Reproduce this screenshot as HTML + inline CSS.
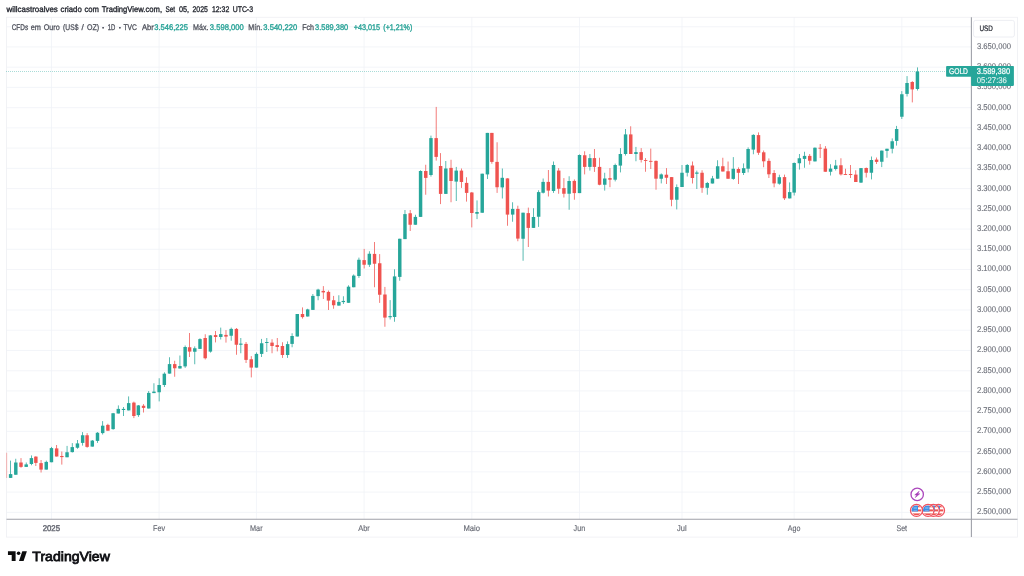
<!DOCTYPE html>
<html lang="pt"><head><meta charset="utf-8"><title>CFDs em Ouro (US$ / OZ) - TradingView</title>
<style>html,body{margin:0;padding:0;background:#fff;overflow:hidden}svg{display:block}text{font-family:"Liberation Sans", sans-serif;text-rendering:geometricPrecision;stroke-width:0.22px;paint-order:stroke fill}</style></head><body>
<svg width="1024" height="576" viewBox="0 0 1024 576">
<defs><filter id="soft" x="0" y="0" width="100%" height="100%" filterUnits="objectBoundingBox"><feGaussianBlur stdDeviation="0.35"/></filter></defs>
<g filter="url(#soft)">
<rect x="0" y="0" width="1024" height="576" fill="#ffffff"/>
<g stroke="#f0f2f7" stroke-width="0.8" fill="none"><line x1="6.50" x2="971.40" y1="26.71" y2="26.71"/><line x1="6.50" x2="971.40" y1="46.95" y2="46.95"/><line x1="6.50" x2="971.40" y1="67.18" y2="67.18"/><line x1="6.50" x2="971.40" y1="87.42" y2="87.42"/><line x1="6.50" x2="971.40" y1="107.65" y2="107.65"/><line x1="6.50" x2="971.40" y1="127.89" y2="127.89"/><line x1="6.50" x2="971.40" y1="148.12" y2="148.12"/><line x1="6.50" x2="971.40" y1="168.36" y2="168.36"/><line x1="6.50" x2="971.40" y1="188.59" y2="188.59"/><line x1="6.50" x2="971.40" y1="208.82" y2="208.82"/><line x1="6.50" x2="971.40" y1="229.06" y2="229.06"/><line x1="6.50" x2="971.40" y1="249.29" y2="249.29"/><line x1="6.50" x2="971.40" y1="269.53" y2="269.53"/><line x1="6.50" x2="971.40" y1="289.76" y2="289.76"/><line x1="6.50" x2="971.40" y1="310.00" y2="310.00"/><line x1="6.50" x2="971.40" y1="330.24" y2="330.24"/><line x1="6.50" x2="971.40" y1="350.47" y2="350.47"/><line x1="6.50" x2="971.40" y1="370.71" y2="370.71"/><line x1="6.50" x2="971.40" y1="390.94" y2="390.94"/><line x1="6.50" x2="971.40" y1="411.17" y2="411.17"/><line x1="6.50" x2="971.40" y1="431.41" y2="431.41"/><line x1="6.50" x2="971.40" y1="451.64" y2="451.64"/><line x1="6.50" x2="971.40" y1="471.88" y2="471.88"/><line x1="6.50" x2="971.40" y1="492.12" y2="492.12"/><line x1="6.50" x2="971.40" y1="512.35" y2="512.35"/><line x1="51.45" x2="51.45" y1="17.25" y2="519.30"/><line x1="159.14" x2="159.14" y1="17.25" y2="519.30"/><line x1="256.43" x2="256.43" y1="17.25" y2="519.30"/><line x1="364.13" x2="364.13" y1="17.25" y2="519.30"/><line x1="471.82" x2="471.82" y1="17.25" y2="519.30"/><line x1="579.51" x2="579.51" y1="17.25" y2="519.30"/><line x1="682.00" x2="682.00" y1="17.25" y2="519.30"/><line x1="794.15" x2="794.15" y1="17.25" y2="519.30"/><line x1="901.84" x2="901.84" y1="17.25" y2="519.30"/></g>
<rect x="6.50" y="17.25" width="1011.00" height="519.85" fill="none" stroke="#eeeff3" stroke-width="0.8"/>
<g id="candles">
<rect x="6.50" y="452.75" width="0.6" height="25.25" fill="#ef5350" opacity="0.7"/>
<rect x="10.22" y="460.60" width="0.76" height="17.40" fill="#26a69a"/>
<rect x="8.88" y="474.10" width="3.45" height="3.80" fill="#26a69a"/>
<rect x="15.42" y="458.75" width="0.76" height="16.00" fill="#26a69a"/>
<rect x="14.07" y="462.50" width="3.45" height="12.25" fill="#26a69a"/>
<rect x="20.62" y="458.10" width="0.76" height="9.65" fill="#ef5350"/>
<rect x="19.27" y="462.50" width="3.45" height="4.40" fill="#ef5350"/>
<rect x="25.82" y="462.50" width="0.76" height="4.40" fill="#26a69a"/>
<rect x="24.47" y="464.40" width="3.45" height="2.50" fill="#26a69a"/>
<rect x="31.02" y="455.40" width="0.76" height="9.85" fill="#26a69a"/>
<rect x="29.67" y="458.10" width="3.45" height="5.90" fill="#26a69a"/>
<rect x="35.47" y="456.25" width="0.76" height="9.75" fill="#ef5350"/>
<rect x="34.13" y="456.60" width="3.45" height="6.30" fill="#ef5350"/>
<rect x="40.67" y="460.00" width="0.76" height="12.50" fill="#ef5350"/>
<rect x="39.33" y="463.10" width="3.45" height="6.50" fill="#ef5350"/>
<rect x="45.87" y="460.60" width="0.76" height="9.00" fill="#26a69a"/>
<rect x="44.52" y="461.90" width="3.45" height="7.70" fill="#26a69a"/>
<rect x="51.07" y="446.90" width="0.76" height="15.35" fill="#26a69a"/>
<rect x="49.72" y="448.10" width="3.45" height="14.15" fill="#26a69a"/>
<rect x="56.27" y="445.00" width="0.76" height="11.50" fill="#ef5350"/>
<rect x="54.92" y="448.40" width="3.45" height="8.10" fill="#ef5350"/>
<rect x="61.47" y="451.50" width="0.76" height="13.10" fill="#ef5350"/>
<rect x="60.12" y="456.00" width="3.45" height="1.10" fill="#ef5350"/>
<rect x="66.67" y="445.90" width="0.76" height="11.35" fill="#26a69a"/>
<rect x="65.32" y="452.25" width="3.45" height="5.00" fill="#26a69a"/>
<rect x="71.86" y="443.10" width="0.76" height="9.40" fill="#26a69a"/>
<rect x="70.52" y="447.10" width="3.45" height="5.00" fill="#26a69a"/>
<rect x="77.06" y="440.00" width="0.76" height="8.75" fill="#26a69a"/>
<rect x="75.72" y="443.40" width="3.45" height="4.35" fill="#26a69a"/>
<rect x="82.26" y="432.10" width="0.76" height="13.50" fill="#26a69a"/>
<rect x="80.92" y="435.25" width="3.45" height="7.65" fill="#26a69a"/>
<rect x="86.72" y="433.10" width="0.76" height="14.65" fill="#ef5350"/>
<rect x="85.37" y="435.25" width="3.45" height="11.65" fill="#ef5350"/>
<rect x="91.92" y="440.00" width="0.76" height="6.60" fill="#26a69a"/>
<rect x="90.57" y="440.60" width="3.45" height="6.00" fill="#26a69a"/>
<rect x="97.12" y="432.10" width="0.76" height="10.80" fill="#26a69a"/>
<rect x="95.77" y="432.75" width="3.45" height="8.15" fill="#26a69a"/>
<rect x="102.31" y="421.10" width="0.76" height="13.40" fill="#26a69a"/>
<rect x="100.97" y="425.70" width="3.45" height="7.40" fill="#26a69a"/>
<rect x="107.51" y="423.75" width="0.76" height="7.00" fill="#ef5350"/>
<rect x="106.17" y="424.90" width="3.45" height="5.80" fill="#ef5350"/>
<rect x="112.71" y="412.90" width="0.76" height="16.85" fill="#26a69a"/>
<rect x="111.37" y="413.25" width="3.45" height="15.85" fill="#26a69a"/>
<rect x="117.91" y="405.40" width="0.76" height="8.10" fill="#26a69a"/>
<rect x="116.57" y="408.90" width="3.45" height="4.60" fill="#26a69a"/>
<rect x="123.11" y="407.00" width="0.76" height="9.00" fill="#26a69a"/>
<rect x="121.77" y="408.90" width="3.45" height="1.10" fill="#26a69a"/>
<rect x="128.31" y="396.40" width="0.76" height="14.00" fill="#26a69a"/>
<rect x="126.96" y="403.10" width="3.45" height="7.30" fill="#26a69a"/>
<rect x="133.51" y="401.60" width="0.76" height="16.50" fill="#ef5350"/>
<rect x="132.16" y="402.60" width="3.45" height="13.40" fill="#ef5350"/>
<rect x="137.96" y="405.00" width="0.76" height="11.90" fill="#26a69a"/>
<rect x="136.62" y="405.40" width="3.45" height="9.70" fill="#26a69a"/>
<rect x="143.16" y="404.10" width="0.76" height="8.40" fill="#ef5350"/>
<rect x="141.82" y="405.75" width="3.45" height="2.15" fill="#ef5350"/>
<rect x="148.36" y="391.00" width="0.76" height="17.50" fill="#26a69a"/>
<rect x="147.02" y="392.90" width="3.45" height="15.60" fill="#26a69a"/>
<rect x="153.56" y="383.25" width="0.76" height="9.85" fill="#26a69a"/>
<rect x="152.22" y="391.60" width="3.45" height="1.50" fill="#26a69a"/>
<rect x="158.76" y="378.25" width="0.76" height="23.15" fill="#26a69a"/>
<rect x="157.41" y="385.00" width="3.45" height="7.25" fill="#26a69a"/>
<rect x="163.96" y="372.30" width="0.76" height="14.70" fill="#26a69a"/>
<rect x="162.61" y="373.70" width="3.45" height="11.30" fill="#26a69a"/>
<rect x="169.16" y="357.25" width="0.76" height="16.35" fill="#26a69a"/>
<rect x="167.81" y="364.10" width="3.45" height="9.50" fill="#26a69a"/>
<rect x="174.36" y="360.75" width="0.76" height="16.00" fill="#ef5350"/>
<rect x="173.01" y="364.10" width="3.45" height="4.15" fill="#ef5350"/>
<rect x="179.56" y="355.50" width="0.76" height="13.00" fill="#26a69a"/>
<rect x="178.21" y="366.00" width="3.45" height="2.50" fill="#26a69a"/>
<rect x="184.75" y="345.50" width="0.76" height="22.40" fill="#26a69a"/>
<rect x="183.41" y="347.00" width="3.45" height="19.40" fill="#26a69a"/>
<rect x="189.21" y="333.00" width="0.76" height="24.00" fill="#ef5350"/>
<rect x="187.87" y="347.25" width="3.45" height="4.35" fill="#ef5350"/>
<rect x="194.41" y="346.40" width="0.76" height="17.85" fill="#26a69a"/>
<rect x="193.06" y="348.25" width="3.45" height="3.50" fill="#26a69a"/>
<rect x="199.61" y="338.25" width="0.76" height="10.65" fill="#26a69a"/>
<rect x="198.26" y="339.10" width="3.45" height="9.80" fill="#26a69a"/>
<rect x="204.81" y="334.25" width="0.76" height="25.25" fill="#ef5350"/>
<rect x="203.46" y="338.00" width="3.45" height="20.25" fill="#ef5350"/>
<rect x="210.01" y="335.10" width="0.76" height="17.50" fill="#26a69a"/>
<rect x="208.66" y="335.40" width="3.45" height="16.20" fill="#26a69a"/>
<rect x="215.21" y="331.00" width="0.76" height="11.40" fill="#ef5350"/>
<rect x="213.86" y="335.10" width="3.45" height="1.90" fill="#ef5350"/>
<rect x="220.40" y="327.60" width="0.76" height="11.90" fill="#26a69a"/>
<rect x="219.06" y="334.10" width="3.45" height="2.90" fill="#26a69a"/>
<rect x="225.60" y="330.10" width="0.76" height="12.50" fill="#ef5350"/>
<rect x="224.26" y="334.90" width="3.45" height="1.70" fill="#ef5350"/>
<rect x="230.80" y="327.60" width="0.76" height="13.15" fill="#26a69a"/>
<rect x="229.46" y="328.90" width="3.45" height="6.85" fill="#26a69a"/>
<rect x="236.00" y="328.00" width="0.76" height="26.75" fill="#ef5350"/>
<rect x="234.66" y="328.90" width="3.45" height="15.85" fill="#ef5350"/>
<rect x="240.46" y="338.00" width="0.76" height="15.25" fill="#26a69a"/>
<rect x="239.11" y="343.60" width="3.45" height="1.15" fill="#26a69a"/>
<rect x="245.66" y="342.00" width="0.76" height="21.00" fill="#ef5350"/>
<rect x="244.31" y="343.90" width="3.45" height="16.00" fill="#ef5350"/>
<rect x="250.85" y="356.10" width="0.76" height="21.30" fill="#ef5350"/>
<rect x="249.51" y="359.25" width="3.45" height="8.35" fill="#ef5350"/>
<rect x="256.05" y="352.40" width="0.76" height="15.20" fill="#26a69a"/>
<rect x="254.71" y="353.90" width="3.45" height="13.70" fill="#26a69a"/>
<rect x="261.25" y="338.90" width="0.76" height="18.10" fill="#26a69a"/>
<rect x="259.91" y="343.25" width="3.45" height="10.65" fill="#26a69a"/>
<rect x="266.45" y="338.00" width="0.76" height="14.00" fill="#26a69a"/>
<rect x="265.11" y="342.00" width="3.45" height="1.00" fill="#26a69a"/>
<rect x="271.65" y="339.25" width="0.76" height="14.00" fill="#ef5350"/>
<rect x="270.31" y="342.60" width="3.45" height="3.40" fill="#ef5350"/>
<rect x="276.85" y="338.00" width="0.76" height="13.40" fill="#ef5350"/>
<rect x="275.50" y="345.10" width="3.45" height="1.90" fill="#ef5350"/>
<rect x="282.05" y="342.25" width="0.76" height="15.65" fill="#ef5350"/>
<rect x="280.70" y="346.00" width="3.45" height="9.00" fill="#ef5350"/>
<rect x="287.25" y="341.40" width="0.76" height="16.50" fill="#26a69a"/>
<rect x="285.90" y="344.10" width="3.45" height="10.90" fill="#26a69a"/>
<rect x="291.70" y="333.25" width="0.76" height="14.00" fill="#26a69a"/>
<rect x="290.36" y="336.00" width="3.45" height="7.90" fill="#26a69a"/>
<rect x="296.90" y="314.00" width="0.76" height="22.50" fill="#26a69a"/>
<rect x="295.56" y="314.00" width="3.45" height="22.50" fill="#26a69a"/>
<rect x="302.10" y="307.40" width="0.76" height="11.20" fill="#ef5350"/>
<rect x="300.76" y="314.00" width="3.45" height="3.10" fill="#ef5350"/>
<rect x="307.30" y="308.75" width="0.76" height="7.75" fill="#26a69a"/>
<rect x="305.95" y="309.40" width="3.45" height="7.10" fill="#26a69a"/>
<rect x="312.50" y="294.00" width="0.76" height="15.90" fill="#26a69a"/>
<rect x="311.15" y="295.90" width="3.45" height="14.00" fill="#26a69a"/>
<rect x="317.70" y="288.75" width="0.76" height="11.50" fill="#26a69a"/>
<rect x="316.35" y="289.60" width="3.45" height="6.50" fill="#26a69a"/>
<rect x="322.90" y="286.10" width="0.76" height="12.90" fill="#ef5350"/>
<rect x="321.55" y="290.90" width="3.45" height="1.50" fill="#ef5350"/>
<rect x="328.10" y="290.50" width="0.76" height="19.50" fill="#ef5350"/>
<rect x="326.75" y="291.90" width="3.45" height="8.70" fill="#ef5350"/>
<rect x="333.29" y="295.90" width="0.76" height="12.85" fill="#ef5350"/>
<rect x="331.95" y="300.25" width="3.45" height="5.00" fill="#ef5350"/>
<rect x="338.49" y="295.25" width="0.76" height="10.35" fill="#26a69a"/>
<rect x="337.15" y="301.90" width="3.45" height="3.70" fill="#26a69a"/>
<rect x="342.95" y="296.25" width="0.76" height="7.75" fill="#26a69a"/>
<rect x="341.60" y="300.90" width="3.45" height="1.20" fill="#26a69a"/>
<rect x="348.15" y="285.30" width="0.76" height="17.50" fill="#26a69a"/>
<rect x="346.80" y="286.70" width="3.45" height="16.10" fill="#26a69a"/>
<rect x="353.35" y="274.40" width="0.76" height="12.85" fill="#26a69a"/>
<rect x="352.00" y="275.60" width="3.45" height="11.65" fill="#26a69a"/>
<rect x="358.55" y="257.60" width="0.76" height="20.30" fill="#26a69a"/>
<rect x="357.20" y="259.75" width="3.45" height="16.25" fill="#26a69a"/>
<rect x="363.75" y="248.90" width="0.76" height="19.60" fill="#ef5350"/>
<rect x="362.40" y="260.10" width="3.45" height="4.65" fill="#ef5350"/>
<rect x="368.94" y="251.25" width="0.76" height="15.65" fill="#26a69a"/>
<rect x="367.60" y="253.75" width="3.45" height="11.00" fill="#26a69a"/>
<rect x="374.14" y="242.00" width="0.76" height="45.25" fill="#ef5350"/>
<rect x="372.80" y="253.90" width="3.45" height="9.85" fill="#ef5350"/>
<rect x="379.34" y="254.10" width="0.76" height="48.80" fill="#ef5350"/>
<rect x="378.00" y="263.25" width="3.45" height="31.50" fill="#ef5350"/>
<rect x="384.54" y="286.90" width="0.76" height="39.85" fill="#ef5350"/>
<rect x="383.20" y="294.50" width="3.45" height="23.10" fill="#ef5350"/>
<rect x="389.74" y="300.10" width="0.76" height="19.40" fill="#26a69a"/>
<rect x="388.39" y="316.10" width="3.45" height="1.15" fill="#26a69a"/>
<rect x="394.20" y="269.25" width="0.76" height="52.50" fill="#26a69a"/>
<rect x="392.85" y="276.40" width="3.45" height="40.60" fill="#26a69a"/>
<rect x="399.39" y="238.75" width="0.76" height="42.00" fill="#26a69a"/>
<rect x="398.05" y="238.75" width="3.45" height="38.15" fill="#26a69a"/>
<rect x="404.59" y="210.00" width="0.76" height="29.10" fill="#26a69a"/>
<rect x="403.25" y="214.10" width="3.45" height="25.00" fill="#26a69a"/>
<rect x="409.79" y="210.00" width="0.76" height="21.00" fill="#ef5350"/>
<rect x="408.45" y="213.25" width="3.45" height="11.50" fill="#ef5350"/>
<rect x="414.99" y="214.75" width="0.76" height="10.00" fill="#26a69a"/>
<rect x="413.65" y="216.90" width="3.45" height="7.85" fill="#26a69a"/>
<rect x="420.19" y="170.30" width="0.76" height="46.60" fill="#26a69a"/>
<rect x="418.85" y="171.00" width="3.45" height="45.90" fill="#26a69a"/>
<rect x="425.39" y="164.75" width="0.76" height="30.00" fill="#ef5350"/>
<rect x="424.04" y="171.00" width="3.45" height="6.90" fill="#ef5350"/>
<rect x="430.59" y="135.60" width="0.76" height="41.00" fill="#26a69a"/>
<rect x="429.24" y="138.10" width="3.45" height="36.90" fill="#26a69a"/>
<rect x="435.79" y="106.90" width="0.76" height="53.70" fill="#ef5350"/>
<rect x="434.44" y="138.10" width="3.45" height="18.80" fill="#ef5350"/>
<rect x="440.24" y="153.10" width="0.76" height="51.00" fill="#ef5350"/>
<rect x="438.90" y="166.00" width="3.45" height="27.90" fill="#ef5350"/>
<rect x="445.44" y="161.00" width="0.76" height="32.90" fill="#26a69a"/>
<rect x="444.10" y="168.50" width="3.45" height="25.40" fill="#26a69a"/>
<rect x="450.64" y="159.75" width="0.76" height="42.50" fill="#ef5350"/>
<rect x="449.30" y="167.90" width="3.45" height="13.10" fill="#ef5350"/>
<rect x="455.84" y="166.90" width="0.76" height="34.10" fill="#26a69a"/>
<rect x="454.50" y="170.60" width="3.45" height="11.00" fill="#26a69a"/>
<rect x="461.04" y="168.50" width="0.76" height="19.40" fill="#ef5350"/>
<rect x="459.69" y="170.60" width="3.45" height="11.40" fill="#ef5350"/>
<rect x="466.24" y="177.25" width="0.76" height="24.35" fill="#ef5350"/>
<rect x="464.89" y="182.90" width="3.45" height="10.00" fill="#ef5350"/>
<rect x="471.44" y="192.00" width="0.76" height="35.40" fill="#ef5350"/>
<rect x="470.09" y="192.50" width="3.45" height="20.50" fill="#ef5350"/>
<rect x="476.64" y="200.40" width="0.76" height="18.70" fill="#26a69a"/>
<rect x="475.29" y="212.00" width="3.45" height="1.75" fill="#26a69a"/>
<rect x="481.83" y="173.70" width="0.76" height="39.05" fill="#26a69a"/>
<rect x="480.49" y="173.70" width="3.45" height="39.05" fill="#26a69a"/>
<rect x="487.03" y="132.90" width="0.76" height="46.10" fill="#26a69a"/>
<rect x="485.69" y="132.90" width="3.45" height="41.50" fill="#26a69a"/>
<rect x="491.49" y="132.90" width="0.76" height="30.85" fill="#ef5350"/>
<rect x="490.14" y="132.90" width="3.45" height="29.00" fill="#ef5350"/>
<rect x="496.69" y="142.25" width="0.76" height="50.65" fill="#ef5350"/>
<rect x="495.34" y="161.90" width="3.45" height="25.35" fill="#ef5350"/>
<rect x="501.89" y="168.50" width="0.76" height="30.00" fill="#26a69a"/>
<rect x="500.54" y="177.80" width="3.45" height="9.60" fill="#26a69a"/>
<rect x="507.09" y="178.25" width="0.76" height="47.50" fill="#ef5350"/>
<rect x="505.74" y="178.40" width="3.45" height="36.20" fill="#ef5350"/>
<rect x="512.29" y="202.25" width="0.76" height="19.50" fill="#26a69a"/>
<rect x="510.94" y="208.90" width="3.45" height="5.70" fill="#26a69a"/>
<rect x="517.48" y="205.70" width="0.76" height="35.55" fill="#ef5350"/>
<rect x="516.14" y="208.90" width="3.45" height="29.70" fill="#ef5350"/>
<rect x="522.68" y="212.70" width="0.76" height="48.05" fill="#26a69a"/>
<rect x="521.34" y="212.70" width="3.45" height="26.05" fill="#26a69a"/>
<rect x="527.88" y="207.60" width="0.76" height="39.40" fill="#ef5350"/>
<rect x="526.54" y="213.10" width="3.45" height="14.80" fill="#ef5350"/>
<rect x="533.08" y="208.20" width="0.76" height="19.70" fill="#26a69a"/>
<rect x="531.74" y="217.00" width="3.45" height="10.90" fill="#26a69a"/>
<rect x="538.28" y="190.25" width="0.76" height="36.65" fill="#26a69a"/>
<rect x="536.93" y="192.10" width="3.45" height="24.65" fill="#26a69a"/>
<rect x="542.74" y="178.50" width="0.76" height="15.00" fill="#26a69a"/>
<rect x="541.39" y="181.90" width="3.45" height="10.85" fill="#26a69a"/>
<rect x="547.93" y="170.00" width="0.76" height="26.50" fill="#ef5350"/>
<rect x="546.59" y="181.90" width="3.45" height="8.70" fill="#ef5350"/>
<rect x="553.13" y="161.50" width="0.76" height="31.40" fill="#26a69a"/>
<rect x="551.79" y="165.00" width="3.45" height="26.00" fill="#26a69a"/>
<rect x="558.33" y="168.10" width="0.76" height="25.65" fill="#ef5350"/>
<rect x="556.99" y="170.60" width="3.45" height="18.15" fill="#ef5350"/>
<rect x="563.53" y="178.10" width="0.76" height="19.40" fill="#ef5350"/>
<rect x="562.19" y="188.10" width="3.45" height="5.65" fill="#ef5350"/>
<rect x="568.73" y="176.25" width="0.76" height="33.50" fill="#26a69a"/>
<rect x="567.39" y="181.00" width="3.45" height="12.75" fill="#26a69a"/>
<rect x="573.93" y="179.40" width="0.76" height="20.35" fill="#ef5350"/>
<rect x="572.58" y="180.90" width="3.45" height="12.20" fill="#ef5350"/>
<rect x="579.13" y="154.40" width="0.76" height="38.70" fill="#26a69a"/>
<rect x="577.78" y="155.00" width="3.45" height="38.10" fill="#26a69a"/>
<rect x="584.33" y="151.25" width="0.76" height="23.15" fill="#ef5350"/>
<rect x="582.98" y="155.25" width="3.45" height="11.65" fill="#ef5350"/>
<rect x="589.53" y="154.00" width="0.76" height="16.60" fill="#26a69a"/>
<rect x="588.18" y="158.10" width="3.45" height="8.80" fill="#26a69a"/>
<rect x="593.98" y="149.00" width="0.76" height="22.90" fill="#ef5350"/>
<rect x="592.64" y="158.10" width="3.45" height="8.80" fill="#ef5350"/>
<rect x="599.18" y="157.75" width="0.76" height="27.50" fill="#ef5350"/>
<rect x="597.84" y="166.90" width="3.45" height="17.85" fill="#ef5350"/>
<rect x="604.38" y="172.75" width="0.76" height="17.85" fill="#26a69a"/>
<rect x="603.03" y="178.50" width="3.45" height="6.25" fill="#26a69a"/>
<rect x="609.58" y="168.10" width="0.76" height="19.10" fill="#ef5350"/>
<rect x="608.23" y="178.10" width="3.45" height="1.60" fill="#ef5350"/>
<rect x="614.78" y="163.60" width="0.76" height="17.80" fill="#26a69a"/>
<rect x="613.43" y="165.00" width="3.45" height="14.70" fill="#26a69a"/>
<rect x="619.98" y="148.10" width="0.76" height="24.30" fill="#26a69a"/>
<rect x="618.63" y="154.00" width="3.45" height="11.60" fill="#26a69a"/>
<rect x="625.18" y="129.00" width="0.76" height="26.50" fill="#26a69a"/>
<rect x="623.83" y="134.40" width="3.45" height="19.60" fill="#26a69a"/>
<rect x="630.37" y="126.25" width="0.76" height="27.75" fill="#ef5350"/>
<rect x="629.03" y="134.40" width="3.45" height="19.60" fill="#ef5350"/>
<rect x="635.57" y="146.90" width="0.76" height="14.35" fill="#26a69a"/>
<rect x="634.23" y="152.10" width="3.45" height="1.90" fill="#26a69a"/>
<rect x="640.77" y="148.10" width="0.76" height="14.40" fill="#ef5350"/>
<rect x="639.43" y="152.10" width="3.45" height="7.80" fill="#ef5350"/>
<rect x="645.23" y="158.10" width="0.76" height="13.65" fill="#ef5350"/>
<rect x="643.88" y="160.00" width="3.45" height="0.90" fill="#ef5350"/>
<rect x="650.43" y="148.60" width="0.76" height="20.40" fill="#ef5350"/>
<rect x="649.08" y="160.90" width="3.45" height="0.90" fill="#ef5350"/>
<rect x="655.63" y="160.50" width="0.76" height="29.20" fill="#ef5350"/>
<rect x="654.28" y="160.90" width="3.45" height="17.80" fill="#ef5350"/>
<rect x="660.83" y="173.40" width="0.76" height="10.00" fill="#26a69a"/>
<rect x="659.48" y="174.40" width="3.45" height="4.35" fill="#26a69a"/>
<rect x="666.02" y="168.10" width="0.76" height="15.90" fill="#ef5350"/>
<rect x="664.68" y="174.70" width="3.45" height="3.05" fill="#ef5350"/>
<rect x="671.22" y="177.10" width="0.76" height="29.15" fill="#ef5350"/>
<rect x="669.88" y="177.10" width="3.45" height="22.65" fill="#ef5350"/>
<rect x="676.42" y="184.40" width="0.76" height="25.00" fill="#26a69a"/>
<rect x="675.08" y="187.10" width="3.45" height="12.65" fill="#26a69a"/>
<rect x="681.62" y="165.00" width="0.76" height="22.00" fill="#26a69a"/>
<rect x="680.28" y="172.75" width="3.45" height="14.25" fill="#26a69a"/>
<rect x="686.82" y="164.00" width="0.76" height="12.50" fill="#26a69a"/>
<rect x="685.47" y="165.00" width="3.45" height="7.75" fill="#26a69a"/>
<rect x="692.02" y="161.50" width="0.76" height="22.00" fill="#ef5350"/>
<rect x="690.67" y="165.50" width="3.45" height="12.50" fill="#ef5350"/>
<rect x="696.47" y="170.60" width="0.76" height="18.40" fill="#26a69a"/>
<rect x="695.13" y="172.50" width="3.45" height="1.25" fill="#26a69a"/>
<rect x="701.67" y="170.25" width="0.76" height="22.55" fill="#ef5350"/>
<rect x="700.33" y="172.75" width="3.45" height="15.05" fill="#ef5350"/>
<rect x="706.87" y="181.90" width="0.76" height="12.80" fill="#26a69a"/>
<rect x="705.53" y="183.00" width="3.45" height="4.80" fill="#26a69a"/>
<rect x="712.07" y="175.90" width="0.76" height="7.60" fill="#26a69a"/>
<rect x="710.73" y="178.40" width="3.45" height="5.10" fill="#26a69a"/>
<rect x="717.27" y="160.25" width="0.76" height="18.45" fill="#26a69a"/>
<rect x="715.93" y="166.25" width="3.45" height="12.45" fill="#26a69a"/>
<rect x="722.47" y="157.75" width="0.76" height="13.75" fill="#ef5350"/>
<rect x="721.12" y="166.25" width="3.45" height="5.25" fill="#ef5350"/>
<rect x="727.67" y="161.50" width="0.76" height="17.25" fill="#ef5350"/>
<rect x="726.32" y="171.25" width="3.45" height="7.50" fill="#ef5350"/>
<rect x="732.87" y="157.10" width="0.76" height="22.70" fill="#26a69a"/>
<rect x="731.52" y="168.75" width="3.45" height="10.15" fill="#26a69a"/>
<rect x="738.07" y="167.40" width="0.76" height="16.60" fill="#ef5350"/>
<rect x="736.72" y="169.00" width="3.45" height="3.80" fill="#ef5350"/>
<rect x="743.26" y="163.40" width="0.76" height="11.60" fill="#26a69a"/>
<rect x="741.92" y="168.20" width="3.45" height="4.80" fill="#26a69a"/>
<rect x="747.72" y="147.40" width="0.76" height="25.00" fill="#26a69a"/>
<rect x="746.38" y="149.00" width="3.45" height="19.70" fill="#26a69a"/>
<rect x="752.92" y="134.25" width="0.76" height="20.00" fill="#26a69a"/>
<rect x="751.58" y="134.90" width="3.45" height="14.70" fill="#26a69a"/>
<rect x="758.12" y="132.40" width="0.76" height="22.50" fill="#ef5350"/>
<rect x="756.77" y="135.10" width="3.45" height="17.65" fill="#ef5350"/>
<rect x="763.32" y="150.50" width="0.76" height="16.70" fill="#ef5350"/>
<rect x="761.97" y="152.30" width="3.45" height="9.00" fill="#ef5350"/>
<rect x="768.52" y="158.40" width="0.76" height="19.60" fill="#ef5350"/>
<rect x="767.17" y="160.90" width="3.45" height="13.40" fill="#ef5350"/>
<rect x="773.72" y="170.10" width="0.76" height="17.20" fill="#ef5350"/>
<rect x="772.37" y="173.00" width="3.45" height="10.40" fill="#ef5350"/>
<rect x="778.91" y="174.70" width="0.76" height="10.00" fill="#26a69a"/>
<rect x="777.57" y="177.20" width="3.45" height="6.50" fill="#26a69a"/>
<rect x="784.11" y="174.60" width="0.76" height="25.40" fill="#ef5350"/>
<rect x="782.77" y="177.10" width="3.45" height="21.20" fill="#ef5350"/>
<rect x="789.31" y="182.40" width="0.76" height="16.00" fill="#26a69a"/>
<rect x="787.97" y="192.10" width="3.45" height="6.30" fill="#26a69a"/>
<rect x="793.77" y="162.40" width="0.76" height="33.10" fill="#26a69a"/>
<rect x="792.42" y="163.00" width="3.45" height="29.60" fill="#26a69a"/>
<rect x="798.97" y="154.00" width="0.76" height="15.60" fill="#26a69a"/>
<rect x="797.62" y="158.25" width="3.45" height="5.00" fill="#26a69a"/>
<rect x="804.17" y="151.75" width="0.76" height="16.00" fill="#26a69a"/>
<rect x="802.82" y="155.90" width="3.45" height="3.00" fill="#26a69a"/>
<rect x="809.37" y="154.00" width="0.76" height="10.60" fill="#ef5350"/>
<rect x="808.02" y="155.90" width="3.45" height="4.85" fill="#ef5350"/>
<rect x="814.56" y="147.40" width="0.76" height="14.00" fill="#26a69a"/>
<rect x="813.22" y="147.75" width="3.45" height="13.65" fill="#26a69a"/>
<rect x="819.76" y="144.00" width="0.76" height="14.00" fill="#ef5350"/>
<rect x="818.42" y="147.75" width="3.45" height="0.90" fill="#ef5350"/>
<rect x="824.96" y="146.10" width="0.76" height="25.65" fill="#ef5350"/>
<rect x="823.62" y="148.60" width="3.45" height="23.15" fill="#ef5350"/>
<rect x="830.16" y="164.25" width="0.76" height="11.25" fill="#26a69a"/>
<rect x="828.82" y="168.60" width="3.45" height="3.15" fill="#26a69a"/>
<rect x="835.36" y="159.90" width="0.76" height="10.60" fill="#26a69a"/>
<rect x="834.01" y="165.50" width="3.45" height="3.50" fill="#26a69a"/>
<rect x="840.56" y="158.25" width="0.76" height="17.25" fill="#ef5350"/>
<rect x="839.21" y="165.25" width="3.45" height="9.15" fill="#ef5350"/>
<rect x="845.01" y="168.70" width="0.76" height="6.20" fill="#ef5350"/>
<rect x="843.67" y="174.00" width="3.45" height="0.90" fill="#ef5350"/>
<rect x="850.21" y="165.00" width="0.76" height="13.00" fill="#ef5350"/>
<rect x="848.87" y="174.00" width="3.45" height="1.00" fill="#ef5350"/>
<rect x="855.41" y="170.25" width="0.76" height="11.75" fill="#ef5350"/>
<rect x="854.07" y="174.60" width="3.45" height="7.40" fill="#ef5350"/>
<rect x="860.61" y="168.00" width="0.76" height="15.00" fill="#26a69a"/>
<rect x="859.27" y="168.10" width="3.45" height="14.50" fill="#26a69a"/>
<rect x="865.81" y="167.50" width="0.76" height="10.00" fill="#ef5350"/>
<rect x="864.47" y="168.00" width="3.45" height="4.75" fill="#ef5350"/>
<rect x="871.01" y="156.50" width="0.76" height="22.90" fill="#26a69a"/>
<rect x="869.66" y="160.00" width="3.45" height="12.75" fill="#26a69a"/>
<rect x="876.21" y="157.50" width="0.76" height="6.50" fill="#ef5350"/>
<rect x="874.86" y="159.60" width="3.45" height="2.30" fill="#ef5350"/>
<rect x="881.41" y="150.60" width="0.76" height="16.50" fill="#26a69a"/>
<rect x="880.06" y="150.60" width="3.45" height="11.15" fill="#26a69a"/>
<rect x="886.61" y="148.75" width="0.76" height="9.00" fill="#26a69a"/>
<rect x="885.26" y="148.75" width="3.45" height="2.15" fill="#26a69a"/>
<rect x="891.80" y="138.40" width="0.76" height="15.00" fill="#26a69a"/>
<rect x="890.46" y="141.25" width="3.45" height="7.50" fill="#26a69a"/>
<rect x="896.26" y="125.90" width="0.76" height="19.70" fill="#26a69a"/>
<rect x="894.92" y="129.00" width="3.45" height="11.90" fill="#26a69a"/>
<rect x="901.46" y="91.10" width="0.76" height="27.90" fill="#26a69a"/>
<rect x="900.12" y="94.25" width="3.45" height="22.50" fill="#26a69a"/>
<rect x="906.66" y="76.10" width="0.76" height="20.40" fill="#26a69a"/>
<rect x="905.31" y="83.00" width="3.45" height="10.90" fill="#26a69a"/>
<rect x="911.86" y="81.10" width="0.76" height="21.30" fill="#ef5350"/>
<rect x="910.51" y="82.00" width="3.45" height="7.40" fill="#ef5350"/>
<rect x="917.06" y="67.40" width="0.76" height="23.10" fill="#26a69a"/>
<rect x="915.71" y="71.50" width="3.45" height="17.50" fill="#26a69a"/>
</g>
<line x1="6.00" x2="971.40" y1="71.40" y2="71.40" stroke="#26a69a" stroke-width="0.8" stroke-dasharray="0.9 1.1" opacity="0.62"/>
<line x1="971.40" x2="971.40" y1="17.25" y2="537.10" stroke="#9fa1a9" stroke-width="1.1"/>
<line x1="6.50" x2="1017.50" y1="519.30" y2="519.30" stroke="#9fa1a9" stroke-width="1.1"/>
<text x="976.90" y="48.90" font-size="8.3" fill="#696c76" stroke="#696c76" textLength="34.00" lengthAdjust="spacingAndGlyphs" style="stroke-width:0.12px">3.650,000</text>
<text x="976.90" y="69.13" font-size="8.3" fill="#696c76" stroke="#696c76" textLength="34.00" lengthAdjust="spacingAndGlyphs" style="stroke-width:0.12px">3.600,000</text>
<text x="976.90" y="89.37" font-size="8.3" fill="#696c76" stroke="#696c76" textLength="34.00" lengthAdjust="spacingAndGlyphs" style="stroke-width:0.12px">3.550,000</text>
<text x="976.90" y="109.60" font-size="8.3" fill="#696c76" stroke="#696c76" textLength="34.00" lengthAdjust="spacingAndGlyphs" style="stroke-width:0.12px">3.500,000</text>
<text x="976.90" y="129.84" font-size="8.3" fill="#696c76" stroke="#696c76" textLength="34.00" lengthAdjust="spacingAndGlyphs" style="stroke-width:0.12px">3.450,000</text>
<text x="976.90" y="150.07" font-size="8.3" fill="#696c76" stroke="#696c76" textLength="34.00" lengthAdjust="spacingAndGlyphs" style="stroke-width:0.12px">3.400,000</text>
<text x="976.90" y="170.31" font-size="8.3" fill="#696c76" stroke="#696c76" textLength="34.00" lengthAdjust="spacingAndGlyphs" style="stroke-width:0.12px">3.350,000</text>
<text x="976.90" y="190.54" font-size="8.3" fill="#696c76" stroke="#696c76" textLength="34.00" lengthAdjust="spacingAndGlyphs" style="stroke-width:0.12px">3.300,000</text>
<text x="976.90" y="210.77" font-size="8.3" fill="#696c76" stroke="#696c76" textLength="34.00" lengthAdjust="spacingAndGlyphs" style="stroke-width:0.12px">3.250,000</text>
<text x="976.90" y="231.01" font-size="8.3" fill="#696c76" stroke="#696c76" textLength="34.00" lengthAdjust="spacingAndGlyphs" style="stroke-width:0.12px">3.200,000</text>
<text x="976.90" y="251.24" font-size="8.3" fill="#696c76" stroke="#696c76" textLength="34.00" lengthAdjust="spacingAndGlyphs" style="stroke-width:0.12px">3.150,000</text>
<text x="976.90" y="271.48" font-size="8.3" fill="#696c76" stroke="#696c76" textLength="34.00" lengthAdjust="spacingAndGlyphs" style="stroke-width:0.12px">3.100,000</text>
<text x="976.90" y="291.71" font-size="8.3" fill="#696c76" stroke="#696c76" textLength="34.00" lengthAdjust="spacingAndGlyphs" style="stroke-width:0.12px">3.050,000</text>
<text x="976.90" y="311.95" font-size="8.3" fill="#696c76" stroke="#696c76" textLength="34.00" lengthAdjust="spacingAndGlyphs" style="stroke-width:0.12px">3.000,000</text>
<text x="976.90" y="332.19" font-size="8.3" fill="#696c76" stroke="#696c76" textLength="34.00" lengthAdjust="spacingAndGlyphs" style="stroke-width:0.12px">2.950,000</text>
<text x="976.90" y="352.42" font-size="8.3" fill="#696c76" stroke="#696c76" textLength="34.00" lengthAdjust="spacingAndGlyphs" style="stroke-width:0.12px">2.900,000</text>
<text x="976.90" y="372.66" font-size="8.3" fill="#696c76" stroke="#696c76" textLength="34.00" lengthAdjust="spacingAndGlyphs" style="stroke-width:0.12px">2.850,000</text>
<text x="976.90" y="392.89" font-size="8.3" fill="#696c76" stroke="#696c76" textLength="34.00" lengthAdjust="spacingAndGlyphs" style="stroke-width:0.12px">2.800,000</text>
<text x="976.90" y="413.12" font-size="8.3" fill="#696c76" stroke="#696c76" textLength="34.00" lengthAdjust="spacingAndGlyphs" style="stroke-width:0.12px">2.750,000</text>
<text x="976.90" y="433.36" font-size="8.3" fill="#696c76" stroke="#696c76" textLength="34.00" lengthAdjust="spacingAndGlyphs" style="stroke-width:0.12px">2.700,000</text>
<text x="976.90" y="453.59" font-size="8.3" fill="#696c76" stroke="#696c76" textLength="34.00" lengthAdjust="spacingAndGlyphs" style="stroke-width:0.12px">2.650,000</text>
<text x="976.90" y="473.83" font-size="8.3" fill="#696c76" stroke="#696c76" textLength="34.00" lengthAdjust="spacingAndGlyphs" style="stroke-width:0.12px">2.600,000</text>
<text x="976.90" y="494.06" font-size="8.3" fill="#696c76" stroke="#696c76" textLength="34.00" lengthAdjust="spacingAndGlyphs" style="stroke-width:0.12px">2.550,000</text>
<text x="976.90" y="514.30" font-size="8.3" fill="#696c76" stroke="#696c76" textLength="34.00" lengthAdjust="spacingAndGlyphs" style="stroke-width:0.12px">2.500,000</text>
<rect x="973.6" y="20.4" width="40.8" height="16.6" rx="2" ry="2" fill="#fff" stroke="#e8eaf0" stroke-width="0.8"/>
<text x="979.40" y="31.40" font-size="8.0" fill="#1c1f29" stroke="#1c1f29" textLength="13.40" lengthAdjust="spacingAndGlyphs">USD</text>
<rect x="946.1" y="66.1" width="25.6" height="10.7" rx="0.8" fill="#26a69a"/>
<text x="948.90" y="74.40" font-size="8.3" fill="#ffffff" stroke="#ffffff" textLength="19.10" lengthAdjust="spacingAndGlyphs">GOLD</text>
<rect x="971.10" y="66.0" width="42.8" height="19.9" rx="0.8" fill="#26a69a"/>
<text x="976.80" y="74.10" font-size="8.3" fill="#ffffff" stroke="#ffffff" textLength="33.30" lengthAdjust="spacingAndGlyphs">3.589,380</text>
<text x="976.80" y="82.70" font-size="8.3" fill="#e4f4f2" stroke="#e4f4f2" textLength="30.10" lengthAdjust="spacingAndGlyphs" style="stroke-width:0.1px">05:27:36</text>
<text x="42.65" y="530.90" font-size="8.3" fill="#666973" stroke="#666973" textLength="17.40" lengthAdjust="spacingAndGlyphs" style="stroke-width:0.45px">2025</text>
<text x="153.04" y="530.90" font-size="8.3" fill="#666973" stroke="#666973" textLength="12.00" lengthAdjust="spacingAndGlyphs" style="stroke-width:0.15px">Fev</text>
<text x="250.03" y="530.90" font-size="8.3" fill="#666973" stroke="#666973" textLength="12.60" lengthAdjust="spacingAndGlyphs" style="stroke-width:0.15px">Mar</text>
<text x="358.23" y="530.90" font-size="8.3" fill="#666973" stroke="#666973" textLength="11.60" lengthAdjust="spacingAndGlyphs" style="stroke-width:0.15px">Abr</text>
<text x="463.42" y="530.90" font-size="8.3" fill="#666973" stroke="#666973" textLength="16.60" lengthAdjust="spacingAndGlyphs" style="stroke-width:0.15px">Maio</text>
<text x="573.61" y="530.90" font-size="8.3" fill="#666973" stroke="#666973" textLength="11.60" lengthAdjust="spacingAndGlyphs" style="stroke-width:0.15px">Jun</text>
<text x="677.10" y="530.90" font-size="8.3" fill="#666973" stroke="#666973" textLength="9.60" lengthAdjust="spacingAndGlyphs" style="stroke-width:0.15px">Jul</text>
<text x="787.75" y="530.90" font-size="8.3" fill="#666973" stroke="#666973" textLength="12.60" lengthAdjust="spacingAndGlyphs" style="stroke-width:0.15px">Ago</text>
<text x="896.44" y="530.90" font-size="8.3" fill="#666973" stroke="#666973" textLength="10.60" lengthAdjust="spacingAndGlyphs" style="stroke-width:0.15px">Set</text>
<text y="12.10" font-size="8.2"><tspan x="6.60" textLength="51.20" lengthAdjust="spacingAndGlyphs" fill="#1a1d26" stroke="#1a1d26" style="stroke-width:0.3px">willcastroalves</tspan> <tspan x="60.50" textLength="21.30" lengthAdjust="spacingAndGlyphs" fill="#1a1d26" stroke="#1a1d26" style="stroke-width:0.3px">criado</tspan> <tspan x="84.50" textLength="14.50" lengthAdjust="spacingAndGlyphs" fill="#1a1d26" stroke="#1a1d26" style="stroke-width:0.3px">com</tspan> <tspan x="101.70" textLength="60.40" lengthAdjust="spacingAndGlyphs" fill="#1a1d26" stroke="#1a1d26" style="stroke-width:0.3px">TradingView.com,</tspan> <tspan x="165.50" textLength="9.60" lengthAdjust="spacingAndGlyphs" fill="#1a1d26" stroke="#1a1d26" style="stroke-width:0.3px">Set</tspan> <tspan x="178.90" textLength="10.10" lengthAdjust="spacingAndGlyphs" fill="#1a1d26" stroke="#1a1d26" style="stroke-width:0.3px">05,</tspan> <tspan x="192.50" textLength="15.40" lengthAdjust="spacingAndGlyphs" fill="#1a1d26" stroke="#1a1d26" style="stroke-width:0.3px">2025</tspan> <tspan x="211.90" textLength="17.40" lengthAdjust="spacingAndGlyphs" fill="#1a1d26" stroke="#1a1d26" style="stroke-width:0.3px">12:32</tspan> <tspan x="232.70" textLength="20.30" lengthAdjust="spacingAndGlyphs" fill="#1a1d26" stroke="#1a1d26" style="stroke-width:0.3px">UTC-3</tspan></text>
<text y="29.80" font-size="8.2"><tspan x="11.70" textLength="16.50" lengthAdjust="spacingAndGlyphs" fill="#4c4f59" stroke="#4c4f59" style="stroke-width:0.26px">CFDs</tspan> <tspan x="30.70" textLength="10.20" lengthAdjust="spacingAndGlyphs" fill="#4c4f59" stroke="#4c4f59" style="stroke-width:0.26px">em</tspan> <tspan x="43.70" textLength="16.00" lengthAdjust="spacingAndGlyphs" fill="#4c4f59" stroke="#4c4f59" style="stroke-width:0.26px">Ouro</tspan> <tspan x="63.10" textLength="15.30" lengthAdjust="spacingAndGlyphs" fill="#4c4f59" stroke="#4c4f59" style="stroke-width:0.26px">(US$</tspan> <tspan x="81.46" fill="#4c4f59" stroke="#4c4f59" style="stroke-width:0.26px">/</tspan> <tspan x="87.00" textLength="12.10" lengthAdjust="spacingAndGlyphs" fill="#4c4f59" stroke="#4c4f59" style="stroke-width:0.26px">OZ)</tspan> <tspan x="101.68" fill="#4c4f59" stroke="#4c4f59" style="stroke-width:0.7px">·</tspan> <tspan x="107.70" textLength="7.60" lengthAdjust="spacingAndGlyphs" fill="#4c4f59" stroke="#4c4f59" style="stroke-width:0.26px">1D</tspan> <tspan x="118.58" fill="#4c4f59" stroke="#4c4f59" style="stroke-width:0.7px">·</tspan> <tspan x="123.50" textLength="13.40" lengthAdjust="spacingAndGlyphs" fill="#4c4f59" stroke="#4c4f59" style="stroke-width:0.26px">TVC</tspan> <tspan x="142.00" textLength="11.90" lengthAdjust="spacingAndGlyphs" fill="#4c4f59" stroke="#4c4f59" style="stroke-width:0.26px">Abr</tspan> <tspan x="154.30" textLength="33.60" lengthAdjust="spacingAndGlyphs" fill="#22a094" stroke="#22a094" style="stroke-width:0.32px">3.546,225</tspan> <tspan x="193.10" textLength="15.50" lengthAdjust="spacingAndGlyphs" fill="#4c4f59" stroke="#4c4f59" style="stroke-width:0.26px">Máx.</tspan> <tspan x="209.80" textLength="34.00" lengthAdjust="spacingAndGlyphs" fill="#22a094" stroke="#22a094" style="stroke-width:0.32px">3.598,000</tspan> <tspan x="248.30" textLength="13.90" lengthAdjust="spacingAndGlyphs" fill="#4c4f59" stroke="#4c4f59" style="stroke-width:0.26px">Mín.</tspan> <tspan x="263.30" textLength="33.90" lengthAdjust="spacingAndGlyphs" fill="#22a094" stroke="#22a094" style="stroke-width:0.32px">3.540,220</tspan> <tspan x="302.20" textLength="11.90" lengthAdjust="spacingAndGlyphs" fill="#4c4f59" stroke="#4c4f59" style="stroke-width:0.26px">Fch</tspan> <tspan x="315.10" textLength="33.10" lengthAdjust="spacingAndGlyphs" fill="#22a094" stroke="#22a094" style="stroke-width:0.32px">3.589,380</tspan> <tspan x="353.70" textLength="26.40" lengthAdjust="spacingAndGlyphs" fill="#22a094" stroke="#22a094" style="stroke-width:0.32px">+43,015</tspan> <tspan x="383.30" textLength="29.00" lengthAdjust="spacingAndGlyphs" fill="#22a094" stroke="#22a094" style="stroke-width:0.32px">(+1,21%)</tspan></text>
<g id="icons">
<circle cx="917.20" cy="494.40" r="6.2" fill="#fff" stroke="#ab47bc" stroke-width="1.3"/>
<path d="M919.20 491.30 L914.80 494.90 L916.90 494.90 L915.30 497.50 L919.70 493.80 L917.60 493.80 Z" fill="#a63cb8" stroke="#a63cb8" stroke-width="0.6" stroke-linejoin="round"/>
<circle cx="938.50" cy="510.40" r="6.0" fill="#fff" stroke="#f0525f" stroke-width="1.3"/><clipPath id="fc0"><circle cx="938.50" cy="510.40" r="5.0"/></clipPath><g clip-path="url(#fc0)"><rect x="933.50" y="505.40" width="10" height="10" fill="#fff"/><rect x="933.50" y="505.60" width="10" height="1.70" fill="#ef5350"/><rect x="933.50" y="509.40" width="10" height="2.00" fill="#ef5350"/><rect x="933.50" y="513.40" width="10" height="1.90" fill="#ef5350"/><rect x="933.50" y="505.20" width="6.5" height="6.3" fill="#3d8fe6"/><rect x="935.60" y="507.00" width="3.4" height="0.5" fill="#9cc6f3"/><rect x="935.60" y="508.50" width="3.4" height="0.5" fill="#9cc6f3"/><rect x="935.60" y="510.00" width="3.4" height="0.5" fill="#9cc6f3"/></g>
<circle cx="933.30" cy="510.40" r="6.0" fill="#fff" stroke="#f0525f" stroke-width="1.3"/><clipPath id="fc1"><circle cx="933.30" cy="510.40" r="5.0"/></clipPath><g clip-path="url(#fc1)"><rect x="928.30" y="505.40" width="10" height="10" fill="#fff"/><rect x="928.30" y="505.60" width="10" height="1.70" fill="#ef5350"/><rect x="928.30" y="509.40" width="10" height="2.00" fill="#ef5350"/><rect x="928.30" y="513.40" width="10" height="1.90" fill="#ef5350"/><rect x="928.30" y="505.20" width="6.5" height="6.3" fill="#3d8fe6"/><rect x="930.40" y="507.00" width="3.4" height="0.5" fill="#9cc6f3"/><rect x="930.40" y="508.50" width="3.4" height="0.5" fill="#9cc6f3"/><rect x="930.40" y="510.00" width="3.4" height="0.5" fill="#9cc6f3"/></g>
<circle cx="928.00" cy="510.40" r="6.0" fill="#fff" stroke="#f0525f" stroke-width="1.3"/><clipPath id="fc2"><circle cx="928.00" cy="510.40" r="5.0"/></clipPath><g clip-path="url(#fc2)"><rect x="923.00" y="505.40" width="10" height="10" fill="#fff"/><rect x="923.00" y="505.60" width="10" height="1.70" fill="#ef5350"/><rect x="923.00" y="509.40" width="10" height="2.00" fill="#ef5350"/><rect x="923.00" y="513.40" width="10" height="1.90" fill="#ef5350"/><rect x="923.00" y="505.20" width="6.5" height="6.3" fill="#3d8fe6"/><rect x="925.10" y="507.00" width="3.4" height="0.5" fill="#9cc6f3"/><rect x="925.10" y="508.50" width="3.4" height="0.5" fill="#9cc6f3"/><rect x="925.10" y="510.00" width="3.4" height="0.5" fill="#9cc6f3"/></g>
<circle cx="916.50" cy="510.40" r="6.0" fill="#fff" stroke="#f0525f" stroke-width="1.3"/><clipPath id="fc3"><circle cx="916.50" cy="510.40" r="5.0"/></clipPath><g clip-path="url(#fc3)"><rect x="911.50" y="505.40" width="10" height="10" fill="#fff"/><rect x="911.50" y="505.60" width="10" height="1.70" fill="#ef5350"/><rect x="911.50" y="509.40" width="10" height="2.00" fill="#ef5350"/><rect x="911.50" y="513.40" width="10" height="1.90" fill="#ef5350"/><rect x="911.50" y="505.20" width="6.5" height="6.3" fill="#3d8fe6"/><rect x="913.60" y="507.00" width="3.4" height="0.5" fill="#9cc6f3"/><rect x="913.60" y="508.50" width="3.4" height="0.5" fill="#9cc6f3"/><rect x="913.60" y="510.00" width="3.4" height="0.5" fill="#9cc6f3"/></g>
</g>
<g id="logo" fill="#0c0d11">
<path d="M7.95 551.3 H15.6 V560.9 H11.7 V555.05 H7.95 Z"/>
<circle cx="18.6" cy="553.25" r="1.8"/>
<path d="M22.3 551.3 H26.9 L23.6 560.9 H19.0 Z"/>
<text x="32.30" y="560.90" font-size="13.4" fill="#0c0d11" stroke="#0c0d11" textLength="77.60" lengthAdjust="spacingAndGlyphs" style="stroke-width:0.75px">TradingView</text>
</g>
</g>
</svg></body></html>
